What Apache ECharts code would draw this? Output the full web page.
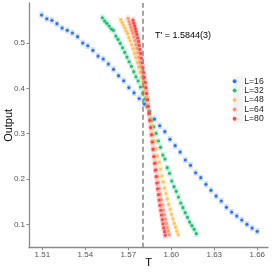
<!DOCTYPE html>
<html><head><meta charset="utf-8">
<script src="https://cdn.jsdelivr.net/npm/echarts@6/dist/echarts.min.js"></script>
<style>html,body{margin:0;padding:0;background:#fff}#c{width:273px;height:273px}</style>
</head><body><div id="c"></div>
<script>
const seriesNames = ['L=16','L=32','L=48','L=64','L=80'];
const colors = ['#1f66e5','#10b96e','#ffbf4f','#ff8b6b','#ff3b3b'];
const TC = 1.5844;
const tcLabel = "T' = 1.5844(3)";
const xTicks = [1.51,1.54,1.57,1.60,1.63,1.66];
const yTicks = [0.1,0.2,0.3,0.4,0.5];

const T16 = [1.5095,1.5131,1.5167,1.5202,1.5238,1.5274,1.5310,1.5346,1.5382,1.5417,1.5453,1.5489,1.5525,1.5561,1.5597,1.5632,1.5668,1.5704,1.5740,1.5776,1.5812,1.5847,1.5883,1.5919,1.5955,1.5991,1.6027,1.6062,1.6098,1.6134,1.6170,1.6206,1.6242,1.6277,1.6313,1.6349,1.6385,1.6421,1.6457,1.6492,1.6528,1.6564,1.6600];
const Y16 = [0.5618,0.5536,0.5501,0.5426,0.5331,0.5280,0.5221,0.5139,0.5000,0.4940,0.4839,0.4713,0.4647,0.4537,0.4420,0.4279,0.4168,0.4018,0.3901,0.3776,0.3654,0.3484,0.3323,0.3175,0.3047,0.2875,0.2734,0.2595,0.2419,0.2302,0.2138,0.2028,0.1882,0.1750,0.1624,0.1514,0.1375,0.1271,0.1183,0.1095,0.1000,0.0918,0.0846];

const T32 = [1.5519,1.5535,1.5550,1.5566,1.5581,1.5597,1.5613,1.5628,1.5644,1.5660,1.5675,1.5691,1.5706,1.5722,1.5738,1.5753,1.5769,1.5785,1.5800,1.5816,1.5831,1.5847,1.5863,1.5878,1.5894,1.5910,1.5925,1.5941,1.5956,1.5972,1.5988,1.6003,1.6019,1.6035,1.6050,1.6066,1.6081,1.6097,1.6113,1.6128,1.6144,1.6160,1.6175];
const Y32 = [0.5558,0.5485,0.5435,0.5375,0.5309,0.5280,0.5154,0.5082,0.4993,0.4896,0.4795,0.4691,0.4587,0.4486,0.4367,0.4256,0.4162,0.4030,0.3890,0.3760,0.3600,0.3450,0.3300,0.3150,0.3008,0.2838,0.2699,0.2529,0.2441,0.2249,0.2125,0.1955,0.1830,0.1728,0.1602,0.1470,0.1366,0.1256,0.1154,0.1050,0.0969,0.0890,0.0793];

const T48 = [1.5647,1.5657,1.5666,1.5676,1.5685,1.5695,1.5704,1.5714,1.5724,1.5733,1.5743,1.5752,1.5762,1.5771,1.5781,1.5791,1.5800,1.5810,1.5819,1.5829,1.5838,1.5848,1.5858,1.5867,1.5877,1.5886,1.5896,1.5905,1.5915,1.5925,1.5934,1.5944,1.5953,1.5963,1.5972,1.5982,1.5992,1.6001,1.6011,1.6020,1.6030,1.6039,1.6049];
const Y48 = [0.5514,0.5450,0.5395,0.5330,0.5265,0.5210,0.5120,0.5050,0.4960,0.4870,0.4775,0.4680,0.4575,0.4470,0.4360,0.4250,0.4150,0.4030,0.3900,0.3765,0.3610,0.3460,0.3305,0.3150,0.2990,0.2830,0.2670,0.2510,0.2370,0.2220,0.2070,0.1935,0.1800,0.1680,0.1560,0.1440,0.1330,0.1220,0.1120,0.1025,0.0935,0.0850,0.0770];

const T64 = [1.5698,1.5705,1.5712,1.5719,1.5725,1.5732,1.5739,1.5746,1.5753,1.5760,1.5767,1.5773,1.5780,1.5787,1.5794,1.5801,1.5808,1.5815,1.5821,1.5828,1.5835,1.5842,1.5849,1.5856,1.5863,1.5869,1.5876,1.5883,1.5890,1.5897,1.5904,1.5911,1.5917,1.5924,1.5931,1.5938,1.5945,1.5952,1.5959,1.5965,1.5972,1.5979,1.5986];
const Y64 = [0.5545,0.5470,0.5410,0.5345,0.5280,0.5215,0.5135,0.5055,0.4970,0.4880,0.4785,0.4685,0.4580,0.4475,0.4365,0.4255,0.4145,0.4025,0.3895,0.3760,0.3610,0.3455,0.3300,0.3140,0.2980,0.2820,0.2660,0.2500,0.2355,0.2205,0.2060,0.1920,0.1790,0.1665,0.1545,0.1430,0.1320,0.1215,0.1115,0.1020,0.0930,0.0850,0.0770];

const T80 = [1.5733,1.5738,1.5744,1.5749,1.5754,1.5760,1.5765,1.5771,1.5776,1.5781,1.5787,1.5792,1.5797,1.5803,1.5808,1.5813,1.5819,1.5824,1.5829,1.5835,1.5840,1.5846,1.5851,1.5856,1.5862,1.5867,1.5872,1.5878,1.5883,1.5888,1.5894,1.5899,1.5904,1.5910,1.5915,1.5920,1.5926,1.5931,1.5937,1.5942,1.5947,1.5953,1.5958];
const Y80 = [0.5507,0.5440,0.5380,0.5320,0.5255,0.5190,0.5115,0.5035,0.4950,0.4860,0.4770,0.4670,0.4565,0.4460,0.4350,0.4240,0.4130,0.4015,0.3885,0.3750,0.3605,0.3450,0.3295,0.3135,0.2975,0.2815,0.2655,0.2495,0.2345,0.2195,0.2050,0.1910,0.1780,0.1655,0.1535,0.1420,0.1310,0.1205,0.1105,0.1010,0.0920,0.0838,0.0757];

const Ts = [T16,T32,T48,T64,T80];
const Ys = [Y16,Y32,Y48,Y64,Y80];

const FONT = 'Liberation Sans, Arial, sans-serif';
const chart = echarts.init(document.getElementById('c'), null, {renderer:'canvas'});

const series = [];
seriesNames.forEach((n,i)=>{
  const data = Ts[i].map((t,k)=>[t, Ys[i][k]]);
  series.push({
    name: n + ' err', type:'scatter', data, symbol:'rect', symbolSize:[4.5,6.5],
    itemStyle:{color:colors[i], opacity:0.2}, silent:true, z:1, animation:false
  });
});
seriesNames.forEach((n,i)=>{
  const data = Ts[i].map((t,k)=>[t, Ys[i][k]]);
  series.push({
    name: n, type:'scatter', data, symbol:'circle', symbolSize:3.2,
    itemStyle:{color:colors[i], opacity:0.9}, z:3, animation:false
  });
});
series.push({
  name:'tc', type:'line', data:[], z:2, animation:false,
  markLine:{
    silent:true, symbol:['none','none'], label:{show:false},
    lineStyle:{color:'#858585', type:[5,3], width:1.5},
    data:[{xAxis: TC}]
  }
});

chart.setOption({
  animation:false,
  grid:{left:29, right:5, top:3, bottom:25.3, containLabel:false, outerBoundsMode:'none'},
  xAxis:{
    type:'value', min:1.5007, max:1.6675,
    name:'T', nameLocation:'middle', nameGap:10, nameMoveOverlap:false,
    nameTextStyle:{color:'#000', fontSize:11, fontFamily:FONT},
    axisLine:{show:true, lineStyle:{color:'#8a8a8a', width:1.3}},
    axisTick:{show:true, length:2.5, customValues:xTicks, lineStyle:{color:'#8a8a8a'}},
    axisLabel:{customValues:xTicks, margin:3, color:'#555', fontSize:8, fontFamily:FONT,
      formatter:v=>v.toFixed(2)},
    splitLine:{show:false}
  },
  yAxis:{
    type:'value', min:0.0484, max:0.5883,
    name:'Output', nameLocation:'middle', nameGap:15, nameRotate:90, nameMoveOverlap:false,
    nameTextStyle:{color:'#000', fontSize:11, fontFamily:FONT},
    axisLine:{show:true, lineStyle:{color:'#8a8a8a', width:1.3}},
    axisTick:{show:true, length:2.5, customValues:yTicks, lineStyle:{color:'#8a8a8a'}},
    axisLabel:{customValues:yTicks, margin:4, color:'#555', fontSize:8, fontFamily:FONT,
      formatter:v=>v.toFixed(1)},
    splitLine:{show:false}
  },
  legend:{
    data:seriesNames, orient:'vertical', left:232.6, top:76.5,
    icon:'circle', itemWidth:9.4, itemHeight:4, itemGap:0,
    textStyle:{fontSize:8.6, lineHeight:9.4, color:'#222', fontFamily:FONT, padding:0},
    padding:0
  },
  graphic:[
    {type:'rect', left:233.3, top:76.5, z:-1, shape:{width:10, height:47}, style:{fill:'#f3f3f3'}},
    {type:'text', left:155, top:31.5, style:{text:tcLabel, font:'9px '+FONT, fill:'#000'}}
  ],
  series
});
</script></body></html>
